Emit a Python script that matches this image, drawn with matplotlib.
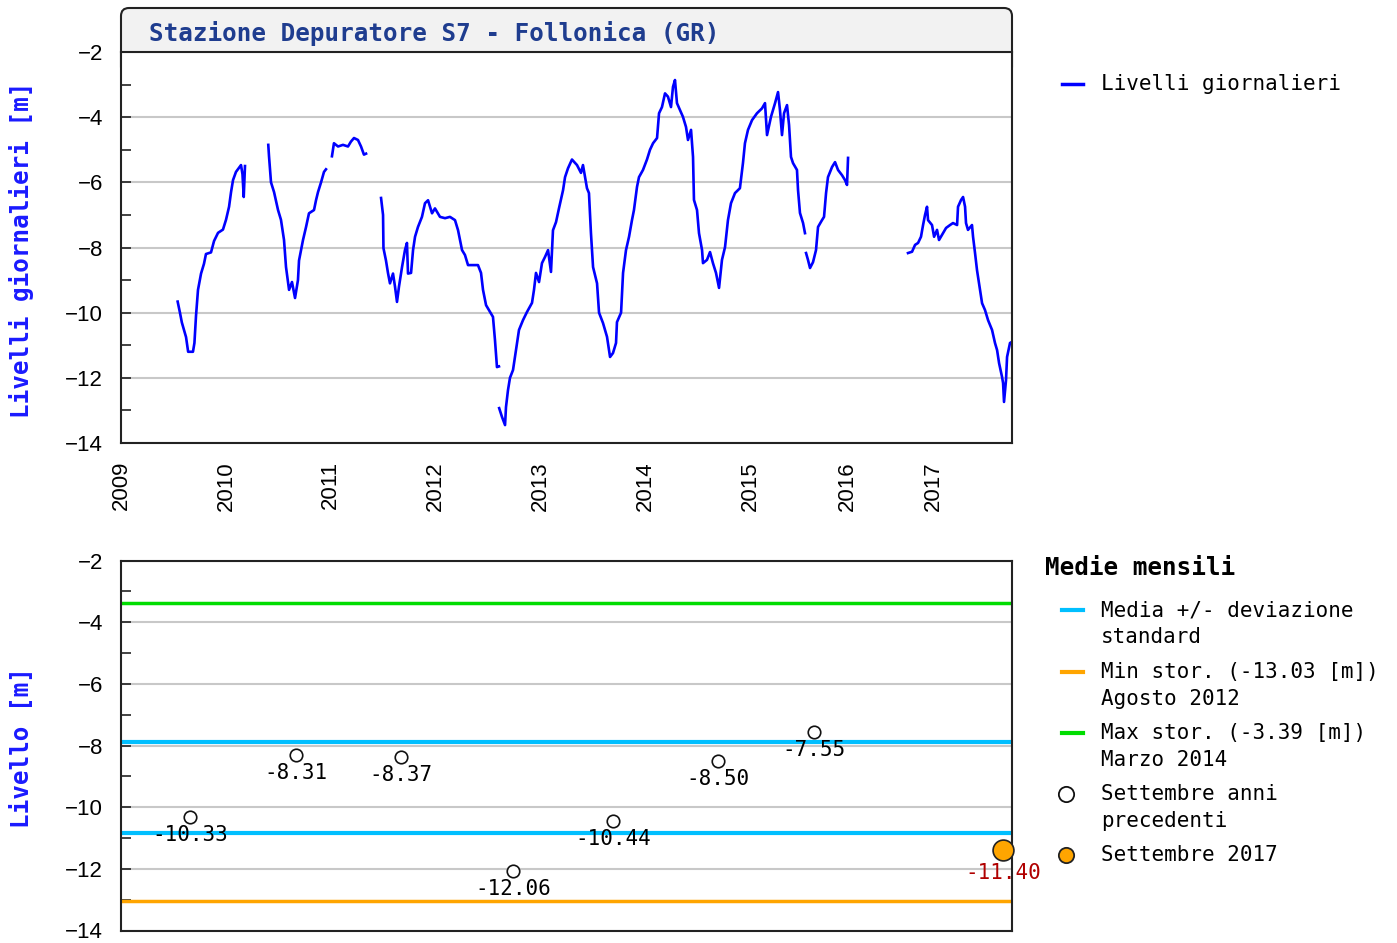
import numpy as np
import matplotlib
matplotlib.use("Agg")
import matplotlib.pyplot as plt
import matplotlib.transforms as mtransforms
from matplotlib.patches import FancyBboxPatch
from matplotlib.lines import Line2D
from matplotlib.ticker import MultipleLocator, NullLocator

nan = np.nan

# Livelli giornalieri (anno decimale, metri) - nan = interruzione della serie
date_giorn = [
    2009.540, 2009.562, 2009.580, 2009.620, 2009.640, 2009.686, 2009.700, 2009.715, 2009.734, 2009.763,
    2009.791, 2009.810, 2009.858, 2009.887, 2009.925, 2009.972, 2010.001, 2010.030, 2010.049, 2010.068,
    2010.096, 2010.125, 2010.144, 2010.158, 2010.170, 2010.182, nan,
    2010.404, 2010.411, 2010.430, 2010.459, 2010.497, 2010.525, 2010.554, 2010.573, 2010.602, 2010.630,
    2010.659, 2010.687, 2010.697, 2010.735, 2010.764, 2010.792, 2010.840, 2010.859, 2010.878, 2010.907,
    2010.935, 2010.954, nan,
    2011.011, 2011.030, 2011.069, 2011.116, 2011.164, 2011.192, 2011.221, 2011.259, 2011.288, 2011.316,
    2011.336, nan,
    2011.479, 2011.498, 2011.502, 2011.526, 2011.545, 2011.564, 2011.593, 2011.612, 2011.631, 2011.650,
    2011.679, 2011.707, 2011.726, 2011.736, 2011.765, 2011.784, 2011.803, 2011.831, 2011.869, 2011.898,
    2011.927, 2011.965, 2011.993, 2012.041, 2012.089, 2012.136, 2012.184, 2012.213, 2012.251, 2012.279,
    2012.308, 2012.356, 2012.403, 2012.432, 2012.451, 2012.480, 2012.508, 2012.546, 2012.565, 2012.584,
    2012.603, nan,
    2012.605, 2012.632, 2012.661, 2012.670, 2012.689, 2012.708, 2012.737, 2012.765, 2012.794, 2012.832,
    2012.870, 2012.918, 2012.937, 2012.956, 2012.985, 2013.013, 2013.042, 2013.071, 2013.099, 2013.118,
    2013.147, 2013.175, 2013.214, 2013.233, 2013.261, 2013.299, 2013.347, 2013.385, 2013.404, 2013.442,
    2013.461, 2013.480, 2013.500, 2013.538, 2013.557, 2013.595, 2013.633, 2013.662, 2013.690, 2013.719,
    2013.728, 2013.767, 2013.786, 2013.814, 2013.843, 2013.871, 2013.890, 2013.919, 2013.938, 2013.976,
    2014.014, 2014.043, 2014.072, 2014.110, 2014.129, 2014.157, 2014.186, 2014.214, 2014.243, 2014.262,
    2014.281, 2014.300, 2014.329, 2014.357, 2014.386, 2014.405, 2014.434, 2014.453, 2014.462, 2014.491,
    2014.510, 2014.539, 2014.548, 2014.586, 2014.615, 2014.643, 2014.672, 2014.701, 2014.729, 2014.758,
    2014.786, 2014.815, 2014.853, 2014.900, 2014.929, 2014.948, 2014.977, 2015.017, 2015.068, 2015.120,
    2015.151, 2015.172, 2015.213, 2015.255, 2015.286, 2015.306, 2015.327, 2015.348, 2015.379, 2015.400,
    2015.420, 2015.441, 2015.482, 2015.493, 2015.513, 2015.545, 2015.565, nan,
    2015.576, 2015.596, 2015.617, 2015.648, 2015.679, 2015.700, 2015.741, 2015.762, 2015.783, 2015.803,
    2015.845, 2015.876, 2015.907, 2015.948, 2015.979, 2016.000, 2016.012, nan,
    2016.709, 2016.756, 2016.791, 2016.826, 2016.860, 2016.884, 2016.907, 2016.930, 2016.942, 2016.988,
    2017.010, 2017.038, 2017.057, 2017.095, 2017.124, 2017.162, 2017.190, 2017.229, 2017.238, 2017.267,
    2017.286, 2017.305, 2017.314, 2017.333, 2017.371, 2017.381, 2017.400, 2017.419, 2017.448, 2017.467,
    2017.495, 2017.524, 2017.562, 2017.590, 2017.610, 2017.629, 2017.657, 2017.667, 2017.676, 2017.695,
    2017.705, 2017.733, 2017.750,
]
livelli_giorn = [
    -9.66, -10.0, -10.3, -10.75, -11.2, -11.2, -10.93, -10.1, -9.3, -8.8,
    -8.5, -8.2, -8.15, -7.8, -7.55, -7.45, -7.15, -6.75, -6.3, -5.93,
    -5.68, -5.55, -5.47, -5.75, -6.45, -5.5, nan,
    -4.85, -5.2, -6.0, -6.3, -6.85, -7.15, -7.77, -8.6, -9.3, -9.06,
    -9.55, -9.0, -8.4, -7.77, -7.37, -6.95, -6.85, -6.55, -6.3, -6.0,
    -5.68, -5.6, nan,
    -5.2, -4.8, -4.9, -4.85, -4.9, -4.75, -4.64, -4.7, -4.9, -5.15,
    -5.12, nan,
    -6.48, -7.0, -8.02, -8.4, -8.78, -9.1, -8.8, -9.2, -9.67, -9.2,
    -8.6, -8.08, -7.86, -8.8, -8.78, -8.08, -7.67, -7.37, -7.06, -6.64,
    -6.55, -6.95, -6.8, -7.06, -7.1, -7.06, -7.16, -7.47, -8.08, -8.23,
    -8.54, -8.54, -8.54, -8.78, -9.3, -9.77, -9.92, -10.13, -10.84, -11.67,
    -11.65, nan,
    -12.93, -13.2, -13.45, -12.9, -12.38, -12.0, -11.76, -11.15, -10.53, -10.23,
    -9.98, -9.7, -9.3, -8.78, -9.06, -8.48, -8.29, -8.08, -8.75, -7.47,
    -7.22, -6.8, -6.24, -5.84, -5.57, -5.3, -5.47, -5.71, -5.47, -6.18,
    -6.33, -7.56, -8.6, -9.1, -10.0, -10.32, -10.74, -11.36, -11.24, -10.93,
    -10.29, -10.0, -8.78, -8.08, -7.67, -7.16, -6.85, -6.14, -5.84, -5.62,
    -5.3, -5.0, -4.8, -4.64, -3.88, -3.69, -3.27, -3.37, -3.69, -3.07,
    -2.86, -3.57, -3.78, -3.99, -4.3, -4.7, -4.39, -5.22, -6.54, -6.85,
    -7.56, -8.08, -8.48, -8.38, -8.14, -8.48, -8.78, -9.24, -8.38, -7.99,
    -7.16, -6.64, -6.33, -6.18, -5.41, -4.8, -4.39, -4.09, -3.88, -3.73,
    -3.57, -4.55, -3.99, -3.57, -3.23, -3.78, -4.55, -3.88, -3.63, -4.24,
    -5.22, -5.41, -5.62, -6.24, -6.94, -7.25, -7.56, nan,
    -8.17, -8.38, -8.63, -8.45, -8.08, -7.37, -7.16, -7.06, -6.33, -5.84,
    -5.53, -5.38, -5.62, -5.78, -5.93, -6.08, -5.25, nan,
    -8.17, -8.13, -7.92, -7.86, -7.67, -7.31, -7.0, -6.75, -7.16, -7.31,
    -7.67, -7.46, -7.77, -7.56, -7.4, -7.31, -7.25, -7.31, -6.75, -6.54,
    -6.45, -6.75, -7.25, -7.46, -7.31, -7.67, -8.17, -8.7, -9.3, -9.71,
    -9.92, -10.23, -10.53, -10.93, -11.15, -11.55, -11.97, -12.16, -12.74, -12.07,
    -11.36, -10.93, -10.9,
]

# Medie mensili di settembre
anni_sett = [2009.658, 2010.668, 2011.669, 2012.737, 2013.690, 2014.691, 2015.658]
valori_sett = [-10.33, -8.31, -8.37, -12.06, -10.44, -8.50, -7.55]
anno_corrente = 2017.667
valore_corrente = -11.40
media = -9.35
dev_std = 1.48
min_storico = -13.03
max_storico = -3.39
anni_tick = list(range(2009, 2018))

# asse temporale come nel grafico originale (anni non equidistanti dopo il 2015)
anni_rif = [2008, 2009, 2010, 2011, 2012, 2013, 2014, 2015, 2016, 2017, 2018, 2019]
pos_rif = [-1, 0, 1, 2, 3, 4, 5, 6, 6.921, 7.741, 8.742, 9.742]


def avanti(x):
    return np.interp(x, anni_rif, pos_rif)


def indietro(p):
    return np.interp(p, pos_rif, anni_rif)


W, H = 1397, 943
MONO = "DejaVu Sans Mono"
SANS = ["Liberation Sans", "DejaVu Sans"]


def fx(x):
    return x / W


def fy(y):
    return 1 - y / H


fig = plt.figure(figsize=(W / 100, H / 100), dpi=100)
ax1 = fig.add_axes([fx(121), fy(443), fx(1012) - fx(121), fy(52) - fy(443)])
ax2 = fig.add_axes([fx(121), fy(930.5), fx(1012) - fx(121), fy(560.6) - fy(930.5)])

for ax in (ax1, ax2):
    ax.set_xscale("function", functions=(avanti, indietro))
    ax.set_xlim(2009, 2017.752)
    ax.set_ylim(-14, -2)
    ax.yaxis.set_major_locator(MultipleLocator(2))
    ax.yaxis.set_minor_locator(MultipleLocator(1))
    ax.xaxis.set_minor_locator(NullLocator())
    ax.grid(axis="y", which="major", color="#c8c8c8", lw=1.5)
    ax.set_axisbelow(True)
    ax.tick_params(axis="y", which="both", direction="in", length=7, width=1.2,
                   pad=13, labelsize=16, color="#222222")
    for lab in ax.get_yticklabels():
        lab.set_family(SANS)
    for sp in ax.spines.values():
        sp.set_linewidth(1.5)
        sp.set_color("#222222")

# pannello superiore
ax1.plot(date_giorn, livelli_giorn, color="#0000ff", lw=1.9)
ax1.set_xticks(anni_tick)
ax1.set_xticklabels([str(a) for a in anni_tick], rotation=90, fontsize=16, family=SANS)
ax1.tick_params(axis="x", length=0, pad=13)

# pannello inferiore
ax2.set_xticks([])
ax2.axhline(max_storico, color="#00dd00", lw=2.5)
ax2.axhline(min_storico, color="#ffa500", lw=2.5)
ax2.axhline(media + dev_std, color="#00bfff", lw=3)
ax2.axhline(media - dev_std, color="#00bfff", lw=3)
ax2.plot(anni_sett, valori_sett, "o", mfc="white", mec="#111111", ms=9, mew=1.2, zorder=4)
for a, v in zip(anni_sett, valori_sett):
    ax2.annotate(f"{v:.2f}", (a, v), xytext=(0, -13), textcoords="offset points",
                 ha="center", va="center", fontsize=15, family=MONO, zorder=5)
ax2.plot([anno_corrente], [valore_corrente], "o", mfc="#ffa500", mec="#222222",
         ms=15, mew=1.2, clip_on=False, zorder=6)
ax2.annotate(f"{valore_corrente:.2f}", (anno_corrente, valore_corrente), xytext=(0, -16),
             textcoords="offset points", ha="center", va="center", fontsize=15,
             family=MONO, color="#b00000", annotation_clip=False, zorder=6)

# riquadro del titolo
box = FancyBboxPatch((121, H - 75), 891, 67, boxstyle="round,pad=0,rounding_size=8",
                     transform=mtransforms.IdentityTransform(), fc="#f2f2f2",
                     ec="#222222", lw=1.5, zorder=-1)
fig.add_artist(box)
fig.text(fx(149), fy(33), "Stazione Depuratore S7 - Follonica (GR)", fontsize=17.5,
         family=MONO, weight="bold", color="#1f3d8f", va="center", ha="left")

# etichette assi y
fig.text(fx(22), fy(250), "Livelli giornalieri [m]", rotation=90, fontsize=17.5,
         family=MONO, weight="bold", color="#1a1aff", ha="center", va="center")
fig.text(fx(22), fy(748), "Livello [m]", rotation=90, fontsize=17.5,
         family=MONO, weight="bold", color="#1a1aff", ha="center", va="center")


# legende
def voce_linea(y, colore, lw=3):
    fig.add_artist(Line2D([fx(1062), fx(1083)], [fy(y), fy(y)], color=colore, lw=lw,
                          transform=fig.transFigure))


def voce_testo(y, testo):
    fig.text(fx(1101), fy(y), testo, fontsize=15, family=MONO, va="center", ha="left")


voce_linea(84, "#0000ff", 2.5)
voce_testo(84, "Livelli giornalieri")

fig.text(fx(1045), fy(568), "Medie mensili", fontsize=17.5, family=MONO, weight="bold",
         va="center", ha="left")
voce_linea(610, "#00bfff")
voce_testo(610, "Media +/- deviazione")
voce_testo(637, "standard")
voce_linea(672, "#ffa500")
voce_testo(672, f"Min stor. ({min_storico:.2f} [m])")
voce_testo(699, "Agosto 2012")
voce_linea(733, "#00dd00")
voce_testo(733, f"Max stor. ({max_storico:.2f} [m])")
voce_testo(760, "Marzo 2014")
fig.add_artist(Line2D([fx(1066)], [fy(794)], marker="o", ms=11, mfc="white", mec="#111111",
                      mew=1.3, transform=fig.transFigure))
voce_testo(794, "Settembre anni")
voce_testo(821, "precedenti")
fig.add_artist(Line2D([fx(1066)], [fy(855)], marker="o", ms=11, mfc="#ffa500", mec="#222222",
                      mew=1.3, transform=fig.transFigure))
voce_testo(855, "Settembre 2017")

fig.savefig("out.png", dpi=100)
